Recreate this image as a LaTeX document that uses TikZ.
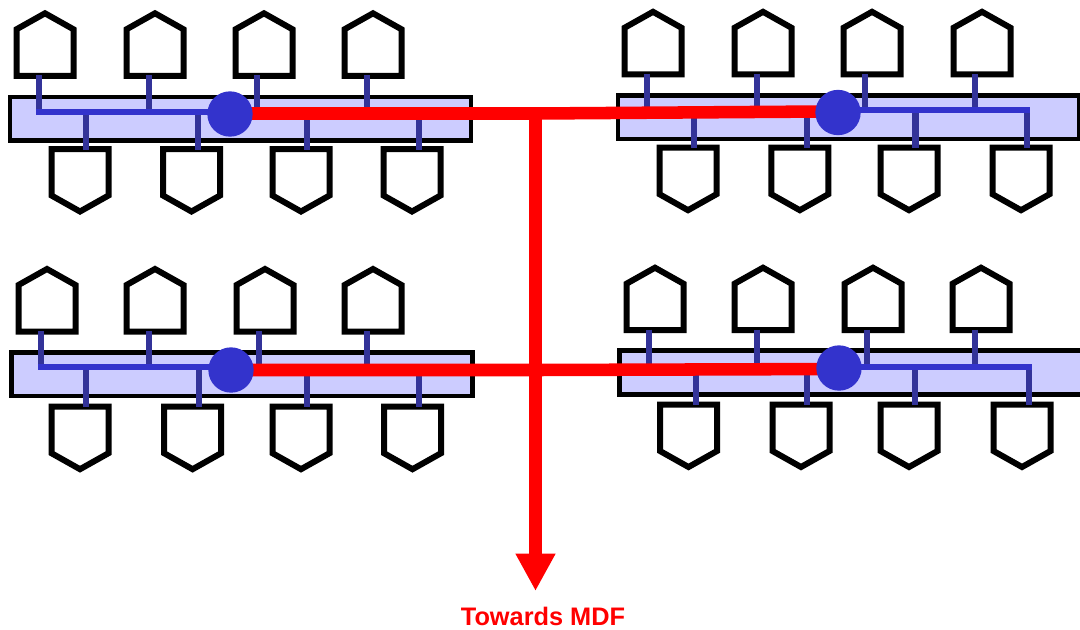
\documentclass[tikz,border=0pt]{standalone}
\usepackage{fontspec}
\setmainfont{Liberation Sans}
\usetikzlibrary{arrows.meta}
\definecolor{bandfill}{HTML}{CCCCFF}
\definecolor{stubblue}{HTML}{333399}
\definecolor{busblue}{HTML}{3333CC}
\definecolor{linkred}{HTML}{FF0000}
\tikzset{
  pent/.style={draw=black,line width=4.5pt,fill=white,miter limit=10},
  band/.style={draw=black,line width=3.5pt,fill=bandfill,rectangle,anchor=north west,outer sep=0pt,inner sep=0pt,minimum width=345.75pt,minimum height=32.6pt},
  stub/.style={draw=stubblue,line width=4.7pt},
  bus/.style={draw=busblue,line width=4.9pt},
  hub/.style={circle,fill=busblue,inner sep=0pt,outer sep=0pt,minimum size=34pt},
  link/.style={draw=linkred,line width=9.4pt},
  penup/.pic={\path[pent] (0,0) -- (28.5,16) -- (28.5,62.5) -- (-28.5,62.5) -- (-28.5,16) -- cycle;},
  pendown/.pic={\path[pent] (-28.5,0) -- (28.5,0) -- (28.5,46.5) -- (0,62.5) -- (-28.5,46.5) -- cycle;}
}
% #1 name, #2 centre x, #3 apex y, #4 stub x, #5 bus y
\newcommand\UpTerm[5]{\pic at (#2,#3) {penup};
  \coordinate (#1p) at (#4,#3+62); \coordinate (#1b) at (#4,#5);
  \draw[stub] (#1p) -- (#1b);}
\newcommand\DownTerm[5]{\pic at (#2,#3) {pendown};
  \coordinate (#1p) at (#4,#3+0.5); \coordinate (#1b) at (#4,#5);
  \draw[stub] (#1b) -- (#1p);}
\begin{document}
\begin{tikzpicture}[x=0.75pt,y=-0.75pt]
\useasboundingbox (0,0) rectangle (1080,629);
\fill[white] (0,0) rectangle (1080,629);
% bands
\node[band] (bandA) at (10,97) {};
\node[band] (bandC) at (11.5,352.5) {};
\node[band] (bandB) at (618,95.5) {};
\node[band,minimum width=346.9pt] (bandD) at (619.7,350.7) {};
% group A
\UpTerm{au1}{45}{13.3}{39}{112}\UpTerm{au2}{155}{13.3}{149}{112}\UpTerm{au3}{264}{13.3}{257}{112}\UpTerm{au4}{373}{13.3}{367}{112}
\DownTerm{ad1}{80}{149}{86}{112}\DownTerm{ad2}{191.5}{149}{198}{112}\DownTerm{ad3}{301}{149}{307}{112}\DownTerm{ad4}{412}{149}{419}{112}
\draw[bus] ([xshift=-2.35pt]au1b) -- (ad4b);
% group B
\UpTerm{bu1}{653}{11.8}{647}{110}\UpTerm{bu2}{763}{11.8}{757}{110}\UpTerm{bu3}{872}{11.8}{865}{110}\UpTerm{bu4}{982}{11.8}{975}{110}
\DownTerm{bd1}{688}{147.7}{694}{110}\DownTerm{bd2}{799.8}{147.7}{807}{110}\DownTerm{bd3}{909}{147.7}{915.5}{110}\DownTerm{bd4}{1021}{147.7}{1027}{110}
\draw[bus] (bu1b) -- ([xshift=2.35pt]bd4b);
% group C
\UpTerm{cu1}{47}{269}{41}{367}\UpTerm{cu2}{155}{269}{149}{367}\UpTerm{cu3}{265}{269}{259}{367}\UpTerm{cu4}{373}{269}{367}{367}
\DownTerm{cd1}{80}{406.7}{86}{367}\DownTerm{cd2}{192.6}{406.7}{199}{367}\DownTerm{cd3}{301}{406.7}{307}{367}\DownTerm{cd4}{412.5}{406.7}{419}{367}
\draw[bus] ([xshift=-2.35pt]cu1b) -- (cd4b);
% group D
\UpTerm{du1}{655}{267.7}{649}{367}\UpTerm{du2}{763}{267.7}{757}{367}\UpTerm{du3}{873}{267.7}{867}{367}\UpTerm{du4}{981}{267.7}{975}{367}
\DownTerm{dd1}{688.5}{404.5}{696}{367}\DownTerm{dd2}{801}{404.5}{807}{367}\DownTerm{dd3}{909}{404.5}{915}{367}\DownTerm{dd4}{1022}{404.5}{1029}{367}
\draw[bus] (du1b) -- ([xshift=2.35pt]dd4b);
% red links
\coordinate (teeTop) at (535.5,113.5);
\coordinate (teeBot) at (535.5,370);
\coordinate (mdf) at (535.5,591);
\coordinate (hubAc) at (230,113.5);
\coordinate (hubBc) at (838,111.4);
\coordinate (hubCc) at (231,370);
\coordinate (hubDc) at (839,369);
\draw[link] (hubAc) -- (teeTop);
\draw[link] (teeTop) -- (hubBc);
\draw[link] (hubCc) -- (teeBot) -- (hubDc);
\draw[link,-{Triangle[length=28pt,width=28pt]}] (teeTop) -- (mdf);
% hubs
\node[hub] (hubA) at (230,114) {};
\node[hub] (hubB) at (838,112.5) {};
\node[hub] (hubC) at (231,370) {};
\node[hub] (hubD) at (839,368) {};
\node[text=linkred,font=\bfseries\fontsize{19}{22}\selectfont,inner sep=0pt] (lbl) at (543,616.7) {Towards MDF};
\end{tikzpicture}
\end{document}
